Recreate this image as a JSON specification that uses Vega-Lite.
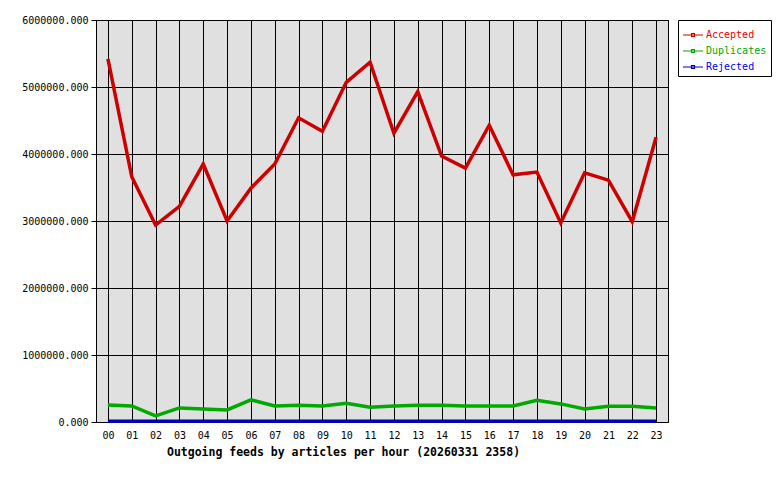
{
  "$schema": "https://vega.github.io/schema/vega-lite/v6.json",
  "width": 572,
  "height": 402,
  "autosize": "none",
  "padding": {"left": 96, "top": 20, "right": 112, "bottom": 58},
  "background": "white",
  "config": {
    "font": "DejaVu Sans Mono",
    "view": {"fill": "#e0e0e0", "stroke": "black", "strokeWidth": 1},
    "axis": {"gridColor": "black", "gridOpacity": 1, "gridWidth": 1, "domain": false, "labelFont": "DejaVu Sans Mono", "labelFontSize": 10, "labelColor": "black", "labelOverlap": false, "labelFlush": false}
  },
  "data": {
    "values": [
      {"hour": "00", "series": "Accepted", "v": 5420000},
      {"hour": "01", "series": "Accepted", "v": 3660000},
      {"hour": "02", "series": "Accepted", "v": 2940000},
      {"hour": "03", "series": "Accepted", "v": 3220000},
      {"hour": "04", "series": "Accepted", "v": 3850000},
      {"hour": "05", "series": "Accepted", "v": 3000000},
      {"hour": "06", "series": "Accepted", "v": 3490000},
      {"hour": "07", "series": "Accepted", "v": 3850000},
      {"hour": "08", "series": "Accepted", "v": 4540000},
      {"hour": "09", "series": "Accepted", "v": 4340000},
      {"hour": "10", "series": "Accepted", "v": 5070000},
      {"hour": "11", "series": "Accepted", "v": 5370000},
      {"hour": "12", "series": "Accepted", "v": 4310000},
      {"hour": "13", "series": "Accepted", "v": 4930000},
      {"hour": "14", "series": "Accepted", "v": 3970000},
      {"hour": "15", "series": "Accepted", "v": 3790000},
      {"hour": "16", "series": "Accepted", "v": 4430000},
      {"hour": "17", "series": "Accepted", "v": 3690000},
      {"hour": "18", "series": "Accepted", "v": 3730000},
      {"hour": "19", "series": "Accepted", "v": 2970000},
      {"hour": "20", "series": "Accepted", "v": 3720000},
      {"hour": "21", "series": "Accepted", "v": 3610000},
      {"hour": "22", "series": "Accepted", "v": 2990000},
      {"hour": "23", "series": "Accepted", "v": 4250000},
      {"hour": "00", "series": "Duplicates", "v": 254000},
      {"hour": "01", "series": "Duplicates", "v": 240000},
      {"hour": "02", "series": "Duplicates", "v": 90000},
      {"hour": "03", "series": "Duplicates", "v": 210000},
      {"hour": "04", "series": "Duplicates", "v": 195000},
      {"hour": "05", "series": "Duplicates", "v": 180000},
      {"hour": "06", "series": "Duplicates", "v": 330000},
      {"hour": "07", "series": "Duplicates", "v": 240000},
      {"hour": "08", "series": "Duplicates", "v": 250000},
      {"hour": "09", "series": "Duplicates", "v": 240000},
      {"hour": "10", "series": "Duplicates", "v": 280000},
      {"hour": "11", "series": "Duplicates", "v": 220000},
      {"hour": "12", "series": "Duplicates", "v": 240000},
      {"hour": "13", "series": "Duplicates", "v": 250000},
      {"hour": "14", "series": "Duplicates", "v": 250000},
      {"hour": "15", "series": "Duplicates", "v": 240000},
      {"hour": "16", "series": "Duplicates", "v": 240000},
      {"hour": "17", "series": "Duplicates", "v": 240000},
      {"hour": "18", "series": "Duplicates", "v": 325000},
      {"hour": "19", "series": "Duplicates", "v": 270000},
      {"hour": "20", "series": "Duplicates", "v": 195000},
      {"hour": "21", "series": "Duplicates", "v": 235000},
      {"hour": "22", "series": "Duplicates", "v": 235000},
      {"hour": "23", "series": "Duplicates", "v": 210000},
      {"hour": "00", "series": "Rejected", "v": 12000},
      {"hour": "01", "series": "Rejected", "v": 12000},
      {"hour": "02", "series": "Rejected", "v": 12000},
      {"hour": "03", "series": "Rejected", "v": 12000},
      {"hour": "04", "series": "Rejected", "v": 12000},
      {"hour": "05", "series": "Rejected", "v": 12000},
      {"hour": "06", "series": "Rejected", "v": 12000},
      {"hour": "07", "series": "Rejected", "v": 12000},
      {"hour": "08", "series": "Rejected", "v": 12000},
      {"hour": "09", "series": "Rejected", "v": 12000},
      {"hour": "10", "series": "Rejected", "v": 12000},
      {"hour": "11", "series": "Rejected", "v": 12000},
      {"hour": "12", "series": "Rejected", "v": 12000},
      {"hour": "13", "series": "Rejected", "v": 12000},
      {"hour": "14", "series": "Rejected", "v": 12000},
      {"hour": "15", "series": "Rejected", "v": 12000},
      {"hour": "16", "series": "Rejected", "v": 12000},
      {"hour": "17", "series": "Rejected", "v": 12000},
      {"hour": "18", "series": "Rejected", "v": 12000},
      {"hour": "19", "series": "Rejected", "v": 12000},
      {"hour": "20", "series": "Rejected", "v": 12000},
      {"hour": "21", "series": "Rejected", "v": 12000},
      {"hour": "22", "series": "Rejected", "v": 12000},
      {"hour": "23", "series": "Rejected", "v": 12000}
    ]
  },
  "mark": {"type": "line", "strokeWidth": 3.5, "interpolate": "linear"},
  "encoding": {
    "x": {
      "field": "hour", "type": "ordinal",
      "scale": {"type": "point", "padding": 0.5},
      "axis": {
        "title": "Outgoing feeds by articles per hour (20260331 2358)",
        "titleFont": "DejaVu Sans Mono", "titleFontSize": 11.5, "titleFontWeight": "bold", "titleColor": "black",
        "titleX": 247, "titleAnchor": "middle", "titlePadding": 6,
        "labelAngle": 0, "ticks": false, "labelPadding": 8, "grid": true
      }
    },
    "y": {
      "field": "v", "type": "quantitative",
      "scale": {"domain": [0, 6000000], "nice": false},
      "axis": {
        "title": null, "format": ".3f", "values": [0, 1000000, 2000000, 3000000, 4000000, 5000000, 6000000],
        "tickSize": 5, "tickColor": "black", "labelPadding": 3, "grid": true
      }
    },
    "color": {
      "field": "series", "type": "nominal",
      "scale": {"domain": ["Accepted", "Duplicates", "Rejected"], "range": ["#cc0000", "#00aa00", "#0000b0"]},
      "legend": {
        "title": null, "orient": "right", "offset": 10,
        "strokeColor": "black", "fillColor": "white", "padding": 4,
        "labelFont": "DejaVu Sans Mono", "labelFontSize": 10,
        "labelColor": {"expr": "datum.value == 'Accepted' ? '#ee0000' : datum.value == 'Duplicates' ? '#00aa00' : '#0000ee'"},
        "symbolType": "M-1,0L1,0M-0.15,-0.15L0.15,-0.15L0.15,0.15L-0.15,0.15Z",
        "symbolSize": 400, "symbolStrokeWidth": 1.2, "labelOffset": 2, "rowPadding": 0, "labelLimit": 80
      }
    }
  }
}
